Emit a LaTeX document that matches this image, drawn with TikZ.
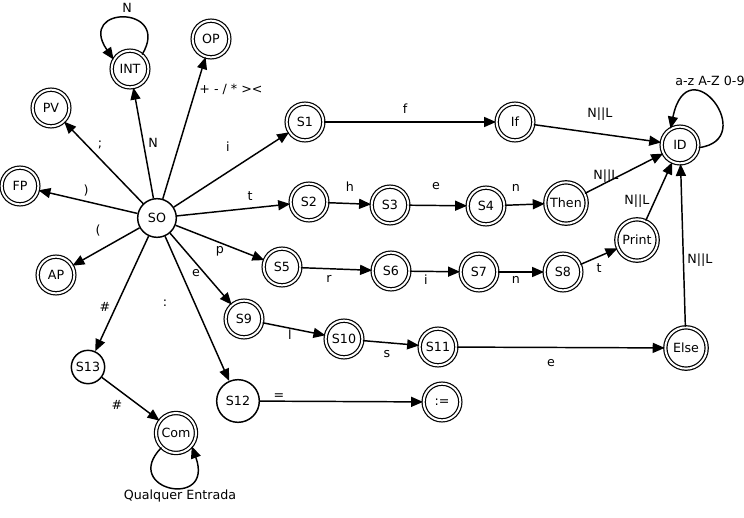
\documentclass[tikz,border=0pt]{standalone}
\usepackage{fontspec}
\setmainfont{DejaVu Sans}
\usetikzlibrary{arrows.meta}

\tikzset{
  st/.style={circle, draw, line width=1.1pt, minimum size=29pt, inner sep=1pt, font=\fontsize{9.5}{11}\selectfont},
  acc/.style={st, line width=0.9pt, double, double distance=1.5pt, minimum size=27.5pt},
  big/.style={minimum size=31pt},
  arr/.style={-{Triangle[length=9pt,width=7.5pt]}, line width=1.1pt},
  lbl/.style={inner sep=0.75pt, font=\fontsize{9.5}{11}\selectfont}
}

\begin{document}
\begin{tikzpicture}[x=0.75pt,y=0.75pt,yscale=-1,xscale=1]
\useasboundingbox (0,0) rectangle (744,518);

% States
\node [st] (SO) at (157,218) {SO};
\node [acc] (INT) at (130,69) {INT};
\node [acc] (OP) at (211,39) {OP};
\node [acc] (PV) at (51,108) {PV};
\node [acc] (FP) at (20,186) {FP};
\node [acc] (AP) at (56,275) {AP};
\node [acc] (S1) at (305,122) {S1};
\node [acc] (If) at (515,122) {If};
\node [acc] (ID) at (680,145) {ID};
\node [acc] (S2) at (309,202) {S2};
\node [acc] (S3) at (390,205) {S3};
\node [acc] (S4) at (486,206) {S4};
\node [acc, big] (Then) at (566,203) {Then};
\node [acc] (S5) at (282,267) {S5};
\node [acc] (S6) at (391,271) {S6};
\node [acc] (S7) at (479,272) {S7};
\node [acc] (S8) at (563,272) {S8};
\node [acc, big] (Print) at (637,240) {Print};
\node [acc] (S9) at (244,319) {S9};
\node [acc] (S10) at (344,339) {S10};
\node [acc] (S11) at (438,347) {S11};
\node [acc, big] (Else) at (686,348) {Else};
\node [st, minimum size=32pt] (S12) at (238,401) {S12};
\node [acc] (Atrib) at (442,402) {:=};
\node [st, minimum size=25pt] (S13) at (88,367) {S13};
\node [acc, minimum size=30pt] (Com) at (176,433) {Com};

% Transitions
\draw [arr] (SO) -- (INT);
\draw [arr] (SO) -- (OP);
\draw [arr] (SO) -- (PV);
\draw [arr] (SO) -- (FP);
\draw [arr] (SO) -- (AP);
\draw [arr] (SO) -- (S1);
\draw [arr] (SO) -- (S2);
\draw [arr] (SO) -- (S5);
\draw [arr] (SO) -- (S9);
\draw [arr] (SO) -- (S12);
\draw [arr] (SO) -- (S13);
\draw [arr] (S13) -- (Com);
\draw [arr] (S12) -- (Atrib);
\draw [arr] (S1) -- (If);
\draw [arr] (If) -- (ID);
\draw [arr] (S2) -- (S3);
\draw [arr] (S3) -- (S4);
\draw [arr] (S4) -- (Then);
\draw [arr] (Then) -- (ID);
\draw [arr] (S5) -- (S6);
\draw [arr] (S6) -- (S7);
\draw [arr] (S7) -- (S8);
\draw [arr] (S8) -- (Print);
\draw [arr] (Print) -- (ID);
\draw [arr] (S9) -- (S10);
\draw [arr] (S10) -- (S11);
\draw [arr] (S11) -- (Else);
\draw [arr] (Else) -- (ID);

% Loops
\draw [arr] (INT.50) .. controls (172,5) and (76,5) .. (INT.150);
\draw [arr] (ID.-8) .. controls (760,140) and (688,44) .. (ID.120);
\draw [arr] (Com.225) .. controls (120,490) and (215,510) .. (Com.-40);

% Text Node
\draw (127,8) node [lbl] {N};
\draw (231,89) node [lbl] {+ - / * ><};
\draw (100,145) node [lbl] {;};
\draw (153,143) node [lbl] {N};
\draw (228,147) node [lbl] {i};
\draw (86,191) node [lbl] {)};
\draw (250,196) node [lbl] {t};
\draw (98,231) node [lbl] {(};
\draw (220,251) node [lbl] {p};
\draw (196,273) node [lbl] {e};
\draw (105,307) node [lbl] {\#};
\draw (165,303) node [lbl] {:};
\draw (405,109) node [lbl] {f};
\draw (600,114) node [lbl] {N||L};
\draw (674,81) node [lbl, anchor=west] {a-z A-Z 0-9};
\draw (350,187) node [lbl] {h};
\draw (436,186) node [lbl] {e};
\draw (516,188) node [lbl] {n};
\draw (606,176) node [lbl] {N||L};
\draw (637,201) node [lbl] {N||L};
\draw (329,279) node [lbl] {r};
\draw (426,280) node [lbl] {i};
\draw (516,280) node [lbl] {n};
\draw (599,268) node [lbl] {t};
\draw (700,260) node [lbl] {N||L};
\draw (290,335) node [lbl] {l};
\draw (387,354) node [lbl] {s};
\draw (551,363) node [lbl] {e};
\draw (279,397) node [lbl] {=};
\draw (117,405) node [lbl] {\#};
\draw (180,496) node [lbl] {Qualquer Entrada};

\end{tikzpicture}
\end{document}
